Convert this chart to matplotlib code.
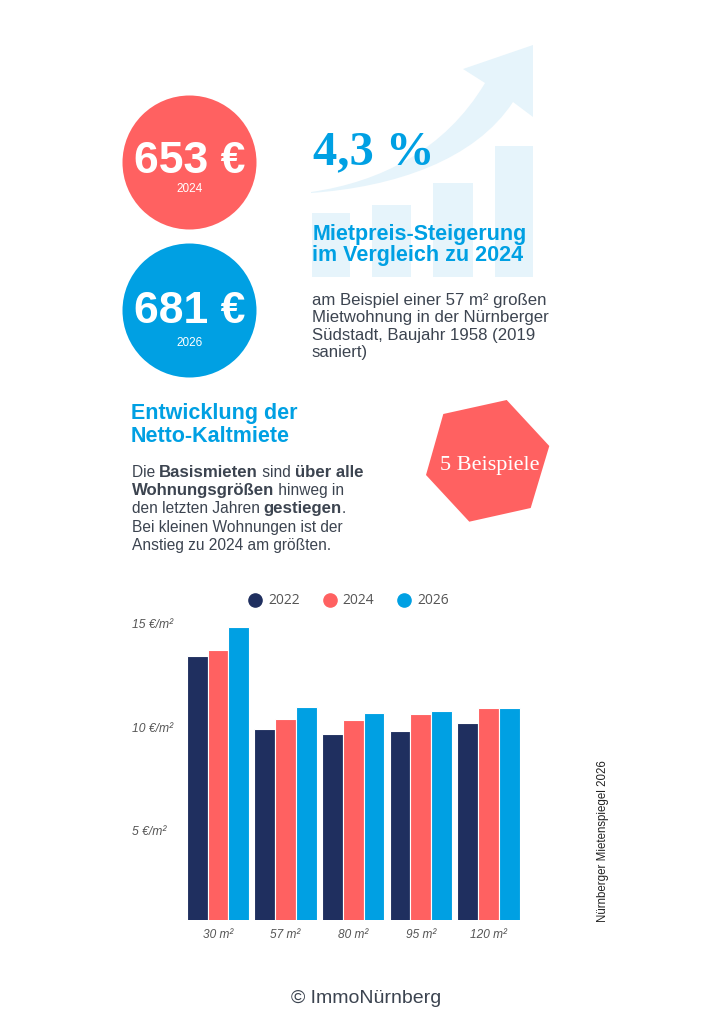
import matplotlib
matplotlib.use("Agg")
import numpy as np
import matplotlib.pyplot as plt
from matplotlib import transforms
from matplotlib.lines import Line2D
from matplotlib.patches import Circle, Polygon, PathPatch, Rectangle
from matplotlib.path import Path

# --- Daten ---
sizes = ["30 m²", "57 m²", "80 m²", "95 m²", "120 m²"]
years = ["2022", "2024", "2026"]
rent_2022 = [13.46, 9.90, 9.66, 9.81, 10.19]
rent_2024 = [13.74, 10.39, 10.35, 10.63, 10.93]
rent_2026 = [14.87, 10.97, 10.71, 10.80, 10.95]
y_ticks = [5, 10, 15]
y_labels = ["5 €/m²", "10 €/m²", "15 €/m²"]

# Beispielwohnung 57 m² Südstadt
miete_2024 = 653
miete_2026 = 681
steigerung = 4.3

NAVY = "#1f2f5f"
RED = "#ff6161"
BLUE = "#00a0e3"
LIGHT = "#e6f4fb"
TEXT = "#3c4450"
GREY = "#555555"
SANS = "Liberation Sans"
SERIF = "Liberation Serif"

fig = plt.figure(figsize=(7.24, 10.24), dpi=100)

# Hintergrund-Ebene in Pixelkoordinaten (y nach unten)
bg = fig.add_axes([0, 0, 1, 1])
bg.set_xlim(0, 724)
bg.set_ylim(1024, 0)
bg.axis("off")

# Deko: Balken + Pfeil
for x0, x1, top in [(311.7, 350, 213), (372, 411, 205), (432.7, 473.3, 183.3), (495, 533.3, 146)]:
    bg.add_patch(Rectangle((x0, top), x1 - x0, 276.7 - top, color=LIGHT, lw=0))

verts = [(311, 192), (380, 182), (445, 150), (485, 83), (463, 69), (533, 45),
         (533, 117), (513, 102), (475, 160), (395, 187), (311, 193), (311, 192)]
codes = [Path.MOVETO, Path.CURVE4, Path.CURVE4, Path.CURVE4, Path.LINETO, Path.LINETO,
         Path.LINETO, Path.LINETO, Path.CURVE4, Path.CURVE4, Path.CURVE4, Path.CLOSEPOLY]
bg.add_patch(PathPatch(Path(verts, codes), color=LIGHT, lw=0))

# Kreise mit Mieten
bg.add_patch(Circle((189.5, 162.5), 67, color=RED, lw=0))
bg.add_patch(Circle((189.5, 310.5), 67, color=BLUE, lw=0))
bg.text(189.5, 173.3, f"{miete_2024} €", ha="center", va="baseline", fontsize=32,
        weight="bold", color="white", family=SANS)
bg.text(189.5, 191.7, years[1], ha="center", va="baseline", fontsize=8.5, color="white", family=SANS)
bg.text(189.5, 323.3, f"{miete_2026} €", ha="center", va="baseline", fontsize=32,
        weight="bold", color="white", family=SANS)
bg.text(189.5, 346, years[2], ha="center", va="baseline", fontsize=8.5, color="white", family=SANS)

# Steigerung
pct = f"{steigerung:.1f}".replace(".", ",") + " %"
bg.text(313, 164.5, pct, ha="left", va="baseline", fontsize=35, weight="bold",
        color=BLUE, family=SERIF)
bg.text(312.5, 240, "Mietpreis-Steigerung", ha="left", va="baseline", fontsize=15.5,
        weight="bold", color=BLUE, family=SANS)
bg.text(312.5, 260.7, "im Vergleich zu 2024", ha="left", va="baseline", fontsize=15.5,
        weight="bold", color=BLUE, family=SANS)

info = ["am Beispiel einer 57 m² großen", "Mietwohnung in der Nürnberger",
        "Südstadt, Baujahr 1958 (2019", "saniert)"]
for i, line in enumerate(info):
    bg.text(311.7, 305 + i * 17.4, line, ha="left", va="baseline", fontsize=12.1,
            color=TEXT, family=SANS)

# Entwicklung
bg.text(131, 419, "Entwicklung der", ha="left", va="baseline", fontsize=15.5,
        weight="bold", color=BLUE, family=SANS)
bg.text(131, 442, "Netto-Kaltmiete", ha="left", va="baseline", fontsize=15.5,
        weight="bold", color=BLUE, family=SANS)


def rich_line(x, y, parts):
    prev = None
    for txt, bold in parts:
        kw = dict(ha="left", va="baseline", color=TEXT, family=SANS,
                  fontsize=12.1 if bold else 11.2,
                  weight="bold" if bold else "normal")
        if prev is None:
            prev = bg.text(x, y, txt, **kw)
        else:
            prev = bg.annotate(txt, xy=(1, y), xycoords=(prev, "data"), **kw)


para = [
    [("Die ", False), ("Basismieten", True), (" sind ", False), ("über alle", True)],
    [("Wohnungsgrößen", True), (" hinweg in", False)],
    [("den letzten Jahren ", False), ("gestiegen", True), (".", False)],
    [("Bei kleinen Wohnungen ist der", False)],
    [("Anstieg zu 2024 am größten.", False)],
]
for i, parts in enumerate(para):
    rich_line(131.5, 476.7 + i * 18.3, parts)

# Sechseck
bg.add_patch(Polygon([(506.7, 400), (549.3, 446), (530.7, 508), (469.3, 521.7),
                      (426, 475), (443.3, 414)], color=RED, lw=0))
bg.text(489.5, 470, "5 Beispiele", ha="center", va="baseline", fontsize=16,
        color="white", family=SERIF)

# Quelle + Fußzeile
bg.text(603.3, 841, "Nürnberger Mietenspiegel 2026", rotation=90, ha="center", va="center",
        fontsize=8.3, color="#222222", family=SANS)
bg.text(366, 1003.3, "© ImmoNürnberg", ha="center", va="baseline", fontsize=14,
        color=TEXT, family=SANS)

# --- Balkendiagramm ---
ax = fig.add_axes([184.2 / 724, 1 - 919.5 / 1024, 338 / 724, (919.5 - 605) / 1024])
ax.patch.set_alpha(0)
x = np.arange(len(sizes))
w = 0.3077
series = [rent_2022, rent_2024, rent_2026]
colors = [NAVY, RED, BLUE]
for i, (vals, c) in enumerate(zip(series, colors)):
    ax.bar(x + (i - 1) * w, vals, w, color=c, edgecolor="white", linewidth=0.8)
ax.set_xlim(-0.5, len(sizes) - 0.5)
ax.set_ylim(0.70, 15.92)
ax.axis("off")

ytrans = transforms.offset_copy(
    transforms.blended_transform_factory(fig.transFigure, ax.transData),
    fig=fig, y=-4.3, units="dots")
for v, lab in zip(y_ticks, y_labels):
    ax.text(132 / 724, v, lab, transform=ytrans, ha="left", va="baseline", fontsize=8.7,
            style="italic", color=GREY, family=SANS, clip_on=False)

xtrans = transforms.blended_transform_factory(ax.transData, fig.transFigure)
for i, lab in enumerate(sizes):
    ax.text(i, 1 - 938.3 / 1024, lab, transform=xtrans, ha="center", va="baseline",
            fontsize=8.6, style="italic", color=GREY, family=SANS, clip_on=False)

handles = [Line2D([], [], marker="o", ls="", color=c, markersize=9.5) for c in colors]
ax.legend(handles, years, loc="center", bbox_to_anchor=(348.5 / 724, 1 - 601 / 1024),
          bbox_transform=fig.transFigure, ncol=3, frameon=False, handlelength=1.0,
          handletextpad=0.45, columnspacing=1.65, labelcolor=GREY,
          prop={"family": "Open Sans", "size": 10})

fig.savefig("out.png", dpi=100)
